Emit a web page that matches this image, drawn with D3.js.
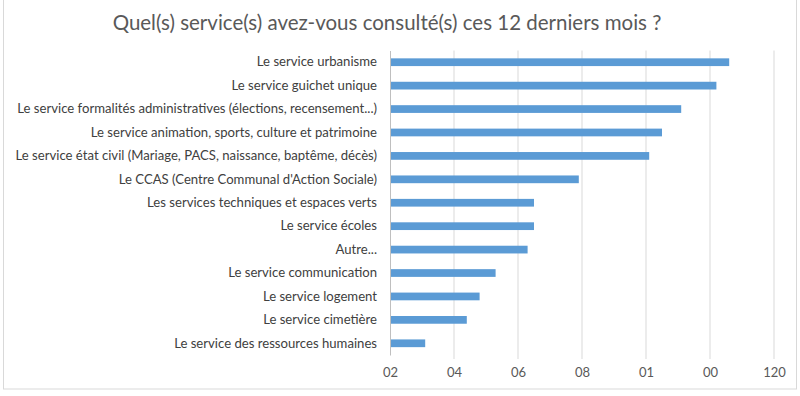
<!DOCTYPE html>
<html>
<head>
<meta charset="utf-8">
<script src="https://cdn.jsdelivr.net/npm/d3@7"></script>
<style>
  body { margin: 0; background: #fff; }
  svg { display: block; font-family: Lato, "Open Sans", sans-serif; }
</style>
</head>
<body>
<div id="chart"></div>
<script>
// Données
const categories = [
    "Le service urbanisme",
    "Le service guichet unique",
    "Le service formalités administratives (élections, recensement...)",
    "Le service animation, sports, culture et patrimoine",
    "Le service état civil (Mariage, PACS, naissance, baptême, décès)",
    "Le CCAS (Centre Communal d'Action Sociale)",
    "Les services techniques et espaces verts",
    "Le service écoles",
    "Autre...",
    "Le service communication",
    "Le service logement",
    "Le service cimetière",
    "Le service des ressources humaines"
];
const values = [106, 102, 91, 85, 81, 59, 45, 45, 43, 33, 28, 24, 11];
const tickValues = [0, 20, 40, 60, 80, 100, 120];
const tickLabels = ["02", "04", "06", "08", "01", "00", "120"];
const title = "Quel(s) service(s) avez-vous consulté(s) ces 12 derniers mois ?";

const font = "Lato, 'Open Sans', sans-serif";
const width = 800, height = 396;
const margin = {top: 50.5, right: 26, bottom: 41, left: 390};
const innerWidth = width - margin.left - margin.right;
const innerHeight = height - margin.top - margin.bottom;

const svg = d3.select("#chart")
    .append("svg")
    .attr("width", width)
    .attr("height", height);

// cadre
svg.append("rect")
    .attr("x", 3.5).attr("y", -1)
    .attr("width", 793).attr("height", 390)
    .attr("fill", "none").attr("stroke", "#d9d9d9");

const titleText = svg.append("text")
    .attr("x", 387).attr("y", 30)
    .attr("text-anchor", "middle")
    .attr("fill", "#595959")
    .style("font-family", font)
    .style("font-size", "20px")
    .text(title);
// ajuster la largeur du titre (~549px)
const tw = titleText.node().getComputedTextLength();
titleText.style("font-size", (20 * 549 / tw) + "px");

const g = svg.append("g")
    .attr("transform", `translate(${margin.left},${margin.top})`);

const xScale = d3.scaleLinear().domain([0, 120]).range([0, innerWidth]);
const yScale = d3.scaleBand().domain(categories).range([0, innerHeight]).paddingInner(0.67).paddingOuter(0.335);

// grille verticale
g.append("g")
    .selectAll("line")
    .data(tickValues.slice(1))
    .join("line")
    .attr("x1", d => xScale(d)).attr("x2", d => xScale(d))
    .attr("y1", 0).attr("y2", innerHeight + 4)
    .attr("stroke", "#d9d9d9");

// axe x (sans ligne)
const xAxis = g.append("g")
    .attr("transform", `translate(0,${innerHeight})`)
    .call(d3.axisBottom(xScale).tickValues(tickValues).tickFormat((d, i) => tickLabels[i]).tickSize(0).tickPadding(13))
    .attr("font-family", font);
xAxis.select(".domain").remove();
xAxis.selectAll("text").attr("fill", "#595959").style("font-size", "13px").style("font-family", font);

// barres
g.selectAll("rect.bar")
    .data(values)
    .join("rect")
    .attr("class", "bar")
    .attr("x", 0)
    .attr("y", (d, i) => yScale(categories[i]))
    .attr("width", d => xScale(d))
    .attr("height", yScale.bandwidth())
    .attr("fill", "#5b9bd5");

// axe y
const yAxis = g.append("g")
    .call(d3.axisLeft(yScale).tickSize(0).tickPadding(13))
    .attr("font-family", font);
yAxis.select(".domain").attr("stroke", "#bfbfbf");
yAxis.selectAll("text").attr("fill", "#404040").style("font-size", "12px").style("font-family", font);

// ajuster la taille des libellés (plus long ~362px)
let maxW = 0;
yAxis.selectAll("text").each(function() { maxW = Math.max(maxW, this.getComputedTextLength()); });
yAxis.selectAll("text").style("font-size", (12 * 362 / maxW) + "px");
</script>
</body>
</html>
